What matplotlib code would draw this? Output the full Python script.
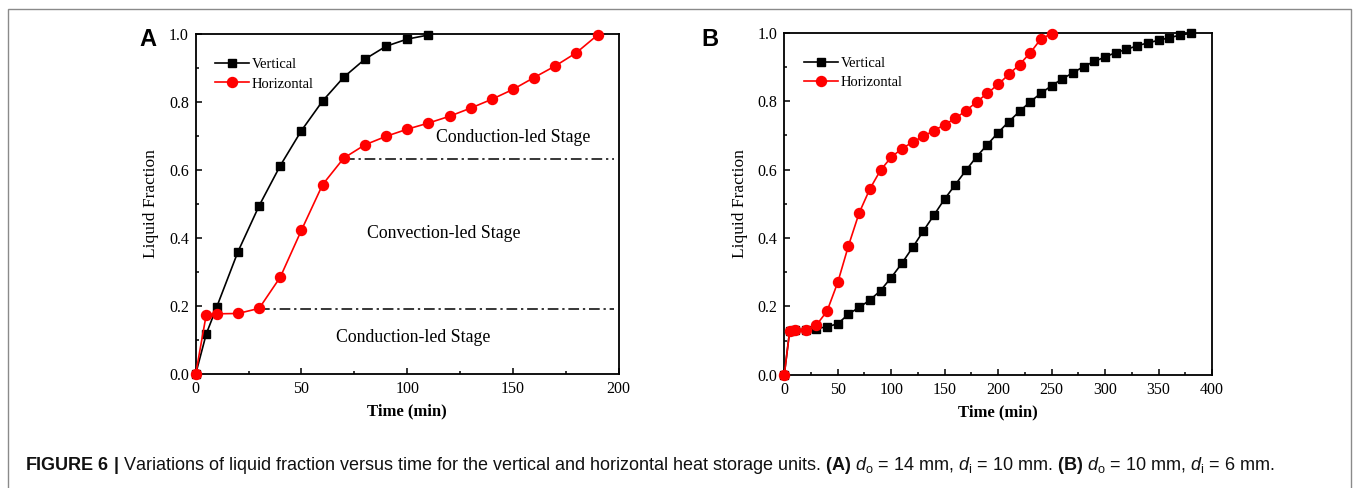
import matplotlib
matplotlib.use("Agg")
import matplotlib.pyplot as plt
from matplotlib.ticker import MultipleLocator
from matplotlib.patches import Rectangle

# Panel A data
time_a_vert = [0, 5, 10, 20, 30, 40, 50, 60, 70, 80, 90, 100, 110]
lf_a_vert = [0.0, 0.118, 0.198, 0.36, 0.495, 0.613, 0.716, 0.803, 0.873, 0.926, 0.964, 0.985, 0.997]
time_a_hor = [0, 5, 10, 20, 30, 40, 50, 60, 70, 80, 90, 100, 110, 120, 130, 140, 150, 160, 170, 180, 190]
lf_a_hor = [0.0, 0.175, 0.177, 0.178, 0.193, 0.285, 0.423, 0.557, 0.635, 0.674, 0.699, 0.72, 0.738,
            0.758, 0.782, 0.808, 0.837, 0.872, 0.906, 0.945, 0.997]
stage_upper = 0.632
stage_lower = 0.191
stage_upper_start = 70
stage_lower_start = 30

# Panel B data
time_b_vert = [0, 5, 10, 20, 30, 40, 50, 60, 70, 80, 90, 100, 110, 120, 130, 140, 150, 160, 170, 180,
               190, 200, 210, 220, 230, 240, 250, 260, 270, 280, 290, 300, 310, 320, 330, 340, 350,
               360, 370, 380]
lf_b_vert = [0.0, 0.128, 0.132, 0.132, 0.135, 0.14, 0.149, 0.177, 0.197, 0.218, 0.246, 0.284, 0.326,
             0.372, 0.42, 0.467, 0.514, 0.556, 0.598, 0.638, 0.673, 0.708, 0.74, 0.77, 0.798, 0.823,
             0.845, 0.865, 0.883, 0.901, 0.916, 0.929, 0.942, 0.951, 0.962, 0.97, 0.978, 0.985,
             0.993, 0.998]
time_b_hor = [0, 5, 10, 20, 30, 40, 50, 60, 70, 80, 90, 100, 110, 120, 130, 140, 150, 160, 170, 180,
              190, 200, 210, 220, 230, 240, 250]
lf_b_hor = [0.0, 0.127, 0.131, 0.132, 0.145, 0.186, 0.27, 0.377, 0.473, 0.543, 0.598, 0.636, 0.661,
            0.68, 0.697, 0.714, 0.731, 0.75, 0.772, 0.798, 0.823, 0.849, 0.878, 0.907, 0.941, 0.982,
            0.997]

plt.rcParams['mathtext.fontset'] = 'custom'
plt.rcParams['mathtext.rm'] = 'Liberation Sans'
plt.rcParams['mathtext.it'] = 'Liberation Sans:italic'
plt.rcParams['mathtext.bf'] = 'Liberation Sans:bold'

SERIF = 'Liberation Serif'
RED = '#ff0000'

fig = plt.figure(figsize=(13.56, 4.88), dpi=100)

# outer frame
fig.add_artist(Rectangle((8 / 1356, -0.05), (1351 - 8) / 1356, 1 - 9 / 488 + 0.05,
                         transform=fig.transFigure, fill=False, edgecolor='#8a8a8a',
                         linewidth=1.0, clip_on=False))

axA = fig.add_axes([195.7 / 1356, 1 - 374 / 488, (618.7 - 195.7) / 1356, (374 - 34) / 488])
axB = fig.add_axes([784.3 / 1356, 1 - 374.7 / 488, (1212 - 784.3) / 1356, (374.7 - 32.7) / 488])


def style(ax, xmax, xmajor):
    ax.set_xlim(0, xmax)
    ax.set_ylim(0, 1.0)
    ax.xaxis.set_major_locator(MultipleLocator(xmajor))
    ax.xaxis.set_minor_locator(MultipleLocator(xmajor / 2))
    ax.yaxis.set_major_locator(MultipleLocator(0.2))
    ax.yaxis.set_minor_locator(MultipleLocator(0.1))
    ax.yaxis.set_major_formatter(plt.FuncFormatter(lambda v, p: f"{v:.1f}"))
    ax.tick_params(which='both', direction='in', top=False, right=False, width=1.1,
                   labelsize=11.5, pad=5)
    ax.tick_params(which='major', length=4)
    ax.tick_params(which='minor', length=2.5)
    for lab in ax.get_xticklabels() + ax.get_yticklabels():
        lab.set_fontfamily(SERIF)
    for s in ax.spines.values():
        s.set_linewidth(1.3)
    ax.set_xlabel('Time (min)', fontfamily=SERIF, fontsize=12, fontweight='bold', labelpad=5)
    ax.set_ylabel('Liquid Fraction', fontfamily=SERIF, fontsize=12.5, labelpad=7)


def plot_series(ax, tv, lv, th, lh):
    ax.plot(tv, lv, color='black', marker='s', markersize=6.3, linewidth=1.2, label='Vertical',
            clip_on=False, zorder=3)
    ax.plot(th, lh, color=RED, marker='o', markersize=7.2, linewidth=1.2, label='Horizontal',
            clip_on=False, zorder=4)
    ax.legend(loc='upper left', bbox_to_anchor=(0.026, 0.955), frameon=False,
              prop={'family': SERIF, 'size': 10.5}, handlelength=2.3, handletextpad=0.2,
              labelspacing=0.42, borderaxespad=0.2)


plot_series(axA, time_a_vert, lf_a_vert, time_a_hor, lf_a_hor)
style(axA, 200, 50)
dash = (0, (7, 2.5, 1.5, 2.5))
axA.plot([stage_upper_start, 198], [stage_upper, stage_upper], color='black', linestyle=dash,
         linewidth=1.1, zorder=2)
axA.plot([stage_lower_start, 198], [stage_lower, stage_lower], color='black', linestyle=dash,
         linewidth=1.1, zorder=2)
axA.text(150, 0.697, 'Conduction-led Stage', fontfamily=SERIF, fontsize=12.8, ha='center', va='center')
axA.text(117.4, 0.413, 'Convection-led Stage', fontfamily=SERIF, fontsize=12.8, ha='center', va='center')
axA.text(102.6, 0.106, 'Conduction-led Stage', fontfamily=SERIF, fontsize=12.8, ha='center', va='center')

plot_series(axB, time_b_vert, lf_b_vert, time_b_hor, lf_b_hor)
style(axB, 400, 50)

fig.text(148 / 1356, 1 - 40 / 488, 'A', fontfamily='Liberation Sans', fontweight='bold',
         fontsize=17, ha='center', va='center')
fig.text(710 / 1356, 1 - 40 / 488, 'B', fontfamily='Liberation Sans', fontweight='bold',
         fontsize=17, ha='center', va='center')

caption = (r'$\mathbf{FIGURE\ 6\ |}$ Variations of liquid fraction versus time for the vertical and '
           r'horizontal heat storage units. $\mathbf{(A)}$ $d_\mathrm{o}$ = 14 mm, $d_\mathrm{i}$ = 10 mm. '
           r'$\mathbf{(B)}$ $d_\mathrm{o}$ = 10 mm, $d_\mathrm{i}$ = 6 mm.')
fig.text(25 / 1356, 1 - 466 / 488, caption, fontfamily='Liberation Sans', fontsize=13,
         ha='left', va='center', color='#111111')

fig.savefig('out.png', dpi=100)
